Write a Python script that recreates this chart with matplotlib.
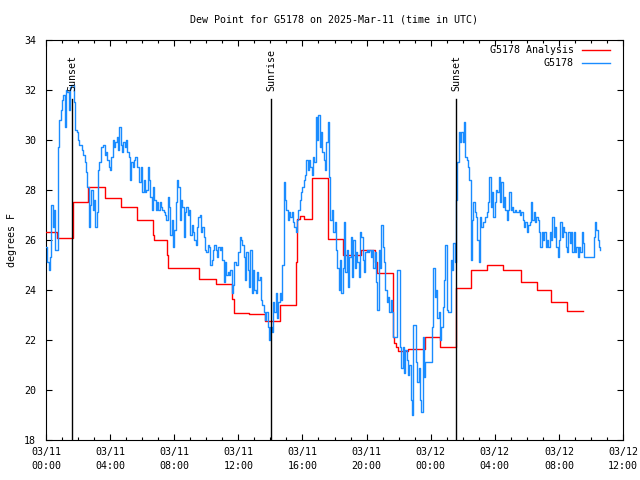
import matplotlib
matplotlib.use("Agg")
import matplotlib.pyplot as plt
import matplotlib.dates as mdates
import pandas as pd
import numpy as np

# ---------------- data ----------------
start = pd.Timestamp("2025-03-11 00:00")

# G5178 observations, 5-minute samples starting 03/11 00:00 (degrees F)
blue_vals = [
    25.7, 25.1, 24.8, 25.3, 27.4, 26.5, 27.2, 25.6, 25.6, 29.7,
    30.8, 31.2, 31.6, 31.8, 30.5, 32.0, 31.9, 31.2, 32.1, 32.2,
    32.2, 31.5, 30.4, 30.3, 30.0, 29.8, 29.8, 29.6, 29.4, 29.1,
    28.7, 28.1, 26.5, 27.4, 28.0, 27.2, 27.6, 26.5, 27.1, 28.8,
    29.1, 29.7, 29.7, 29.8, 29.4, 29.5, 29.2, 28.9, 28.8, 29.3,
    30.0, 29.7, 29.9, 30.1, 29.6, 30.5, 29.8, 29.5, 29.9, 29.7,
    30.0, 29.5, 29.3, 28.4, 29.1, 28.9, 29.2, 29.3, 28.9, 28.9,
    28.3, 28.9, 27.9, 28.4, 27.9, 28.0, 28.9, 28.4, 27.7, 27.2,
    28.1, 27.6, 27.2, 27.5, 27.2, 27.5, 27.3, 27.2, 27.1, 27.0,
    26.8, 27.7, 27.3, 26.2, 26.8, 25.7, 26.4, 27.5, 28.4, 28.1,
    26.8, 27.6, 27.3, 26.1, 27.1, 27.3, 27.0, 27.2, 26.2, 26.6,
    26.3, 26.0, 25.8, 26.5, 26.9, 27.0, 26.3, 26.5, 26.1, 25.6,
    25.5, 25.8, 25.7, 25.0, 25.2, 25.6, 25.8, 25.6, 25.3, 25.7,
    25.6, 25.7, 25.2, 24.3, 25.1, 24.6, 24.7, 24.6, 24.8, 23.9,
    24.2, 25.1, 25.0, 25.0, 25.5, 26.1, 26.0, 25.8, 25.3, 24.4,
    25.5, 24.8, 24.1, 25.6, 23.9, 24.8, 24.0, 23.9, 24.7, 24.4,
    24.5, 23.6, 23.4, 23.1, 22.8, 23.1, 22.5, 22.0, 22.5, 22.3,
    23.5, 23.1, 23.9, 22.9, 23.5, 23.9, 23.6, 25.0, 28.3, 27.6,
    27.2, 26.8, 27.1, 26.9, 27.1, 26.7, 26.5, 26.3, 26.8, 27.2,
    27.6, 27.9, 28.1, 28.4, 28.6, 29.2, 28.8, 29.2, 28.9, 28.6,
    29.3, 29.1, 30.9, 30.0, 31.0, 29.7, 30.3, 29.5, 29.2, 28.8,
    29.9, 30.7, 28.5, 26.8, 27.2, 26.3, 26.7, 25.6, 24.9, 24.0,
    25.2, 23.9, 24.9, 26.7, 24.7, 25.6, 24.1, 25.3, 26.1, 24.5,
    26.0, 24.9, 25.5, 25.1, 24.5, 26.3, 26.1, 25.2, 24.7, 25.5,
    25.6, 25.5, 25.6, 25.3, 25.6, 24.9, 25.5, 24.3, 23.2, 25.6,
    24.9, 26.6, 25.7, 25.1, 24.0, 23.5, 23.7, 23.1, 23.6, 23.1,
    22.1, 22.1, 22.1, 24.8, 24.8, 21.7, 20.9, 21.7, 20.7, 21.6,
    21.2, 20.6, 21.0, 19.6, 19.0, 22.6, 22.6, 21.1, 20.3, 20.9,
    19.6, 19.1, 22.1, 20.5, 21.1, 21.1, 21.1, 21.1, 21.1, 22.5,
    24.9, 23.7, 24.0, 22.9, 23.1, 22.0, 22.5, 23.3, 24.4, 25.8,
    23.2, 23.1, 23.1, 25.2, 24.8, 25.9, 25.1, 27.6, 29.1, 30.3,
    29.9, 30.3, 29.9, 30.7, 29.3, 29.2, 28.9, 28.4, 25.2, 26.8,
    27.5, 27.1, 26.9, 26.0, 25.1, 26.9, 26.5, 26.7, 26.7, 26.9,
    27.1, 27.5, 28.5, 27.3, 27.9, 26.9, 27.5, 28.0, 27.9, 28.5,
    27.5, 28.3, 27.3, 27.7, 27.2, 26.8, 27.2, 27.9, 27.2, 27.3,
    27.1, 27.2, 27.1, 27.1, 27.2, 27.0, 27.1, 26.8, 26.5, 26.7,
    26.3, 26.6, 26.7, 27.5, 26.8, 27.1, 26.7, 26.9, 26.8, 26.3,
    25.7, 26.3, 26.0, 26.3, 25.7, 26.0, 25.7, 26.3, 26.0, 26.9,
    26.1, 26.5, 25.7, 25.3, 26.0, 26.7, 26.1, 26.5, 26.3, 25.7,
    25.5, 26.3, 25.9, 26.3, 25.5, 26.3, 25.5, 25.7, 25.3, 25.7,
    25.5, 26.3, 25.9, 25.3, 25.3, 25.3, 25.3, 25.3, 25.3, 25.3,
    26.1, 26.7, 26.4, 26.0, 25.7, 25.6,
]

# G5178 Analysis: change times (hours after 03/11 00:00) and values (degrees F)
red_hours = [
    0.00, 0.69, 1.67, 2.64, 3.66, 4.66, 5.66, 6.66, 6.74, 7.53,
    7.63, 9.56, 10.60, 11.62, 11.73, 12.66, 13.64, 14.62, 15.62, 15.66,
    15.84, 16.10, 16.58, 16.61, 17.57, 17.61, 18.55, 19.65, 20.52, 20.63,
    21.63, 21.71, 21.83, 21.96, 22.58, 23.64, 24.58, 25.58, 26.53, 27.53,
    28.54, 29.61, 30.61, 31.48, 32.52, 33.52,
]
red_vals = [
    26.3, 26.07, 27.5, 28.1, 27.68, 27.3, 26.8, 26.2, 26.0, 25.4,
    24.9, 24.43, 24.24, 23.64, 23.07, 23.03, 22.76, 23.4, 25.1, 26.84,
    26.97, 26.84, 27.67, 28.47, 27.28, 26.04, 25.4, 25.6, 25.1, 24.67,
    22.13, 21.9, 21.7, 21.55, 21.65, 22.1, 21.7, 24.07, 24.8, 25.0,
    24.8, 24.3, 24.0, 23.5, 23.15, 23.15,
]

event_labels = ["Sunset", "Sunrise", "Sunset"]
event_hours = [1.62, 14.04, 25.58]

title = "Dew Point for G5178 on 2025-Mar-11 (time in UTC)"
ylabel = "degrees F"
series_names = ["G5178 Analysis", "G5178"]

# ---------------- figure ----------------
mono = "DejaVu Sans Mono"
plt.rcParams["font.family"] = mono
plt.rcParams["font.size"] = 7.2

fig = plt.figure(figsize=(6.4, 4.8), dpi=100)
ax = fig.add_axes([46 / 640, 40 / 480, 577 / 640, 400 / 480])

blue_t = pd.date_range(start, periods=len(blue_vals), freq="5min")
red_t = [start + pd.Timedelta(hours=h) for h in red_hours]

red_c = "#ff0000"
blue_c = "#1a8cff"

ax.plot(red_t, red_vals, drawstyle="steps-post", color=red_c, lw=1.0, zorder=3)
ax.plot(blue_t, blue_vals, drawstyle="steps-post", color=blue_c, lw=1.0, zorder=4)

for lab, h in zip(event_labels, event_hours):
    t = start + pd.Timedelta(hours=h)
    ax.plot([t, t], [18, 31.65], color="black", lw=1.0, zorder=5)
    ax.text(t, 31.95, lab, rotation=90, ha="center", va="bottom",
            fontsize=7.2, zorder=6)

ax.set_xlim(start, start + pd.Timedelta(hours=36))
ax.set_ylim(18, 34)
ax.set_yticks(np.arange(18, 35, 2))

ax.xaxis.set_major_locator(mdates.HourLocator(byhour=range(0, 24, 4)))
ax.xaxis.set_minor_locator(mdates.HourLocator())
ax.xaxis.set_major_formatter(mdates.DateFormatter("%m/%d\n%H:%M"))

ax.tick_params(axis="both", which="both", direction="in", top=True, right=True,
               width=0.8, colors="black")
ax.tick_params(axis="both", which="major", length=4.5)
ax.tick_params(axis="x", which="minor", length=2.5)
ax.tick_params(axis="x", which="major", pad=5)
ax.tick_params(axis="y", which="major", pad=7)

for sp in ax.spines.values():
    sp.set_linewidth(0.8)

fig.canvas.draw()
for tk in ax.xaxis.get_major_ticks():
    tk.label1.set_linespacing(1.55)

fig.text(334.5 / 640, 1 - 19 / 480, title, ha="center", va="center", fontsize=7.2)
fig.text(12 / 640, 0.5, ylabel, rotation=90, ha="center", va="center", fontsize=7.2)

# legend (gnuplot style, text left of sample line)
for k, (name, c) in enumerate(zip(series_names, [red_c, blue_c])):
    yv = 1 - (10 + 13 * k) / 400
    ax.text((574 - 46) / 577, yv, name,
            transform=ax.transAxes, ha="right", va="center", fontsize=7.2)
    ax.plot([(582 - 46) / 577, (610 - 46) / 577], [yv, yv], transform=ax.transAxes,
            color=c, lw=1.0, clip_on=False)

fig.savefig("out.png", dpi=100)
